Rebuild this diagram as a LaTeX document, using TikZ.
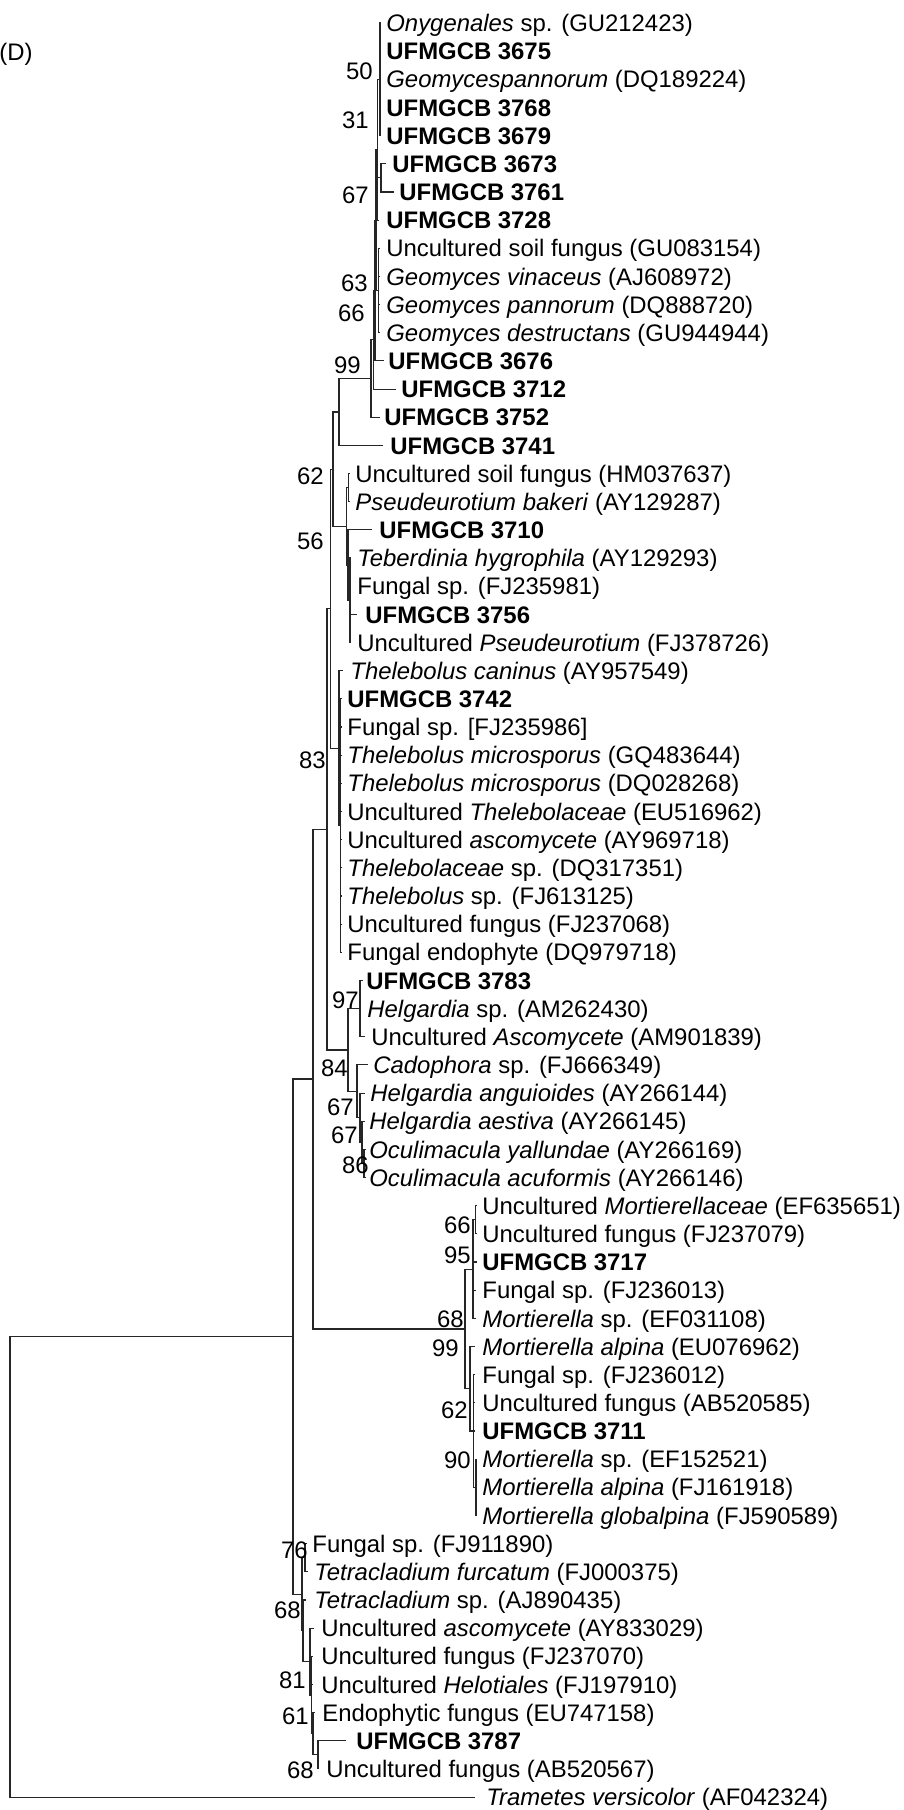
\documentclass[tikz,border=0pt]{standalone}
\usepackage{fontspec}
\setmainfont{Liberation Sans}
\newcommand\tipnode[5]{%
  \coordinate (e#1) at (#2,#4);
  \node[tip] (t#1) at (#3,#4) {#5};}
\begin{document}
\begin{tikzpicture}[x=0.5pt,y=-0.5pt,
  tip/.style={anchor=west,inner sep=0pt,text height=8.6pt,text depth=0pt,font=\fontsize{11.95pt}{13.5pt}\selectfont},
  bs/.style={anchor=east,inner sep=0pt,text height=8.6pt,text depth=0pt,font=\fontsize{11.95pt}{13.5pt}\selectfont},
  br/.style={line width=0.55pt,black!85}]
\useasboundingbox (0,0) rectangle (904,1810);
\node[tip] (lab) at (-1,52) {(D)};
% ---- tips
\tipnode{0}{381}{386}{23.0}{\textit{Onygenales} sp. (GU212423)}
\tipnode{1}{381}{386}{51.2}{\textbf{UFMGCB 3675}}
\tipnode{2}{381}{386}{79.3}{\textit{Geomycespannorum} (DQ189224)}
\tipnode{3}{381}{386}{107.5}{\textbf{UFMGCB 3768}}
\tipnode{4}{381}{386}{135.6}{\textbf{UFMGCB 3679}}
\tipnode{5}{386}{392}{163.8}{\textbf{UFMGCB 3673}}
\tipnode{6}{394}{399}{192.0}{\textbf{UFMGCB 3761}}
\tipnode{7}{379}{386}{220.1}{\textbf{UFMGCB 3728}}
\tipnode{8}{380}{386}{248.3}{Uncultured soil fungus (GU083154)}
\tipnode{9}{380}{386}{276.4}{\textit{Geomyces vinaceus} (AJ608972)}
\tipnode{10}{380}{386}{304.6}{\textit{Geomyces pannorum} (DQ888720)}
\tipnode{11}{380}{386}{332.8}{\textit{Geomyces destructans} (GU944944)}
\tipnode{12}{384}{388}{360.9}{\textbf{UFMGCB 3676}}
\tipnode{13}{396}{401}{389.1}{\textbf{UFMGCB 3712}}
\tipnode{14}{380}{384}{417.2}{\textbf{UFMGCB 3752}}
\tipnode{15}{383}{390}{445.4}{\textbf{UFMGCB 3741}}
\tipnode{16}{350}{355}{473.6}{Uncultured soil fungus (HM037637)}
\tipnode{17}{350}{355}{501.7}{\textit{Pseudeurotium bakeri} (AY129287)}
\tipnode{18}{372}{379}{529.9}{\textbf{UFMGCB 3710}}
\tipnode{19}{351}{357}{558.0}{\textit{Teberdinia hygrophila} (AY129293)}
\tipnode{20}{351}{357}{586.2}{Fungal sp. (FJ235981)}
\tipnode{21}{357}{365}{614.4}{\textbf{UFMGCB 3756}}
\tipnode{22}{351}{357}{642.5}{Uncultured \textit{Pseudeurotium} (FJ378726)}
\tipnode{23}{343}{350}{670.7}{\textit{Thelebolus caninus} (AY957549)}
\tipnode{24}{341}{347}{698.8}{\textbf{UFMGCB 3742}}
\tipnode{25}{341}{347}{727.0}{Fungal sp. [FJ235986]}
\tipnode{26}{341}{347}{755.2}{\textit{Thelebolus microsporus} (GQ483644)}
\tipnode{27}{341}{347}{783.3}{\textit{Thelebolus microsporus} (DQ028268)}
\tipnode{28}{341}{347}{811.5}{Uncultured \textit{Thelebolaceae} (EU516962)}
\tipnode{29}{341}{347}{839.6}{Uncultured \textit{ascomycete} (AY969718)}
\tipnode{30}{341}{347}{867.8}{\textit{Thelebolaceae} sp. (DQ317351)}
\tipnode{31}{341}{347}{896.0}{\textit{Thelebolus} sp. (FJ613125)}
\tipnode{32}{341}{347}{924.1}{Uncultured fungus (FJ237068)}
\tipnode{33}{341}{347}{952.3}{Fungal endophyte (DQ979718)}
\tipnode{34}{363}{366}{980.4}{\textbf{UFMGCB 3783}}
\tipnode{35}{361}{367}{1008.6}{\textit{Helgardia} sp. (AM262430)}
\tipnode{36}{365}{371}{1036.8}{Uncultured \textit{Ascomycete} (AM901839)}
\tipnode{37}{368}{373}{1064.9}{\textit{Cadophora} sp. (FJ666349)}
\tipnode{38}{365}{370}{1093.1}{\textit{Helgardia anguioides} (AY266144)}
\tipnode{39}{365}{369}{1121.2}{\textit{Helgardia aestiva} (AY266145)}
\tipnode{40}{366}{369}{1149.4}{\textit{Oculimacula yallundae} (AY266169)}
\tipnode{41}{366}{369}{1177.6}{\textit{Oculimacula acuformis} (AY266146)}
\tipnode{42}{477}{482}{1205.7}{Uncultured \textit{Mortierellaceae} (EF635651)}
\tipnode{43}{477}{482}{1233.9}{Uncultured fungus (FJ237079)}
\tipnode{44}{477}{482}{1262.0}{\textbf{UFMGCB 3717}}
\tipnode{45}{476}{482}{1290.2}{Fungal sp. (FJ236013)}
\tipnode{46}{476}{482}{1318.4}{\textit{Mortierella} sp. (EF031108)}
\tipnode{47}{475}{482}{1346.5}{\textit{Mortierella alpina} (EU076962)}
\tipnode{48}{475}{482}{1374.7}{Fungal sp. (FJ236012)}
\tipnode{49}{475}{482}{1402.8}{Uncultured fungus (AB520585)}
\tipnode{50}{475}{482}{1431.0}{\textbf{UFMGCB 3711}}
\tipnode{51}{477}{482}{1459.2}{\textit{Mortierella} sp. (EF152521)}
\tipnode{52}{477}{482}{1487.3}{\textit{Mortierella alpina} (FJ161918)}
\tipnode{53}{477}{482}{1515.5}{\textit{Mortierella globalpina} (FJ590589)}
\tipnode{54}{307}{312}{1543.6}{Fungal sp. (FJ911890)}
\tipnode{55}{308}{314}{1571.8}{\textit{Tetracladium furcatum} (FJ000375)}
\tipnode{56}{306}{314}{1600.0}{\textit{Tetracladium} sp. (AJ890435)}
\tipnode{57}{314}{321}{1628.1}{Uncultured \textit{ascomycete} (AY833029)}
\tipnode{58}{313}{321}{1656.3}{Uncultured fungus (FJ237070)}
\tipnode{59}{313}{321}{1684.4}{Uncultured \textit{Helotiales} (FJ197910)}
\tipnode{60}{315}{322}{1712.6}{Endophytic fungus (EU747158)}
\tipnode{61}{346}{356}{1740.8}{\textbf{UFMGCB 3787}}
\tipnode{62}{319}{326}{1768.9}{Uncultured fungus (AB520567)}
\tipnode{63}{475}{486}{1797.1}{\textit{Trametes versicolor} (AF042324)}
% ---- internal nodes
\coordinate (NA) at (380,79.3);
\coordinate (NB) at (381,177.9);
\coordinate (NC) at (377.5,149.7);
\coordinate (ND) at (378.5,290.5);
\coordinate (NE) at (376,220.1);
\coordinate (NF) at (375,290.5);
\coordinate (NG) at (373.5,339.8);
\coordinate (NH) at (371,378.5);
\coordinate (N99) at (339,412);
\coordinate (NP1) at (348.5,487.6);
\coordinate (NP2a) at (350,600.3);
\coordinate (NP2) at (348,565.1);
\coordinate (N56) at (346.5,526.4);
\coordinate (N62) at (333,469.2);
\coordinate (NT2) at (340.5,825.6);
\coordinate (NT) at (339,748.2);
\coordinate (NZ) at (330.5,608.7);
\coordinate (N97) at (360,1008.6);
\coordinate (N86) at (364,1163.5);
\coordinate (N67c) at (362,1142.4);
\coordinate (N67b) at (360,1117.7);
\coordinate (N67a) at (357,1091.3);
\coordinate (N84) at (348,1050);
\coordinate (NY) at (327,829.3);
\coordinate (N66) at (475.5,1219.8);
\coordinate (N95) at (473,1269.1);
\coordinate (N90) at (476,1487.3);
\coordinate (N62m) at (473.5,1431);
\coordinate (N99m) at (470,1388.8);
\coordinate (NM) at (465,1329);
\coordinate (NX) at (313,1079);
\coordinate (N76) at (305,1557.7);
\coordinate (N68c) at (318,1754.9);
\coordinate (N61) at (313,1733.8);
\coordinate (Na) at (311.5,1695);
\coordinate (N81) at (310,1661.6);
\coordinate (N68t) at (303,1630.8);
\coordinate (Ntet) at (302,1594.3);
\coordinate (Nmain) at (293,1336.7);
\coordinate (Nroot) at (10,1566.9);
% ---- branches
\foreach \p/\cs in {NA/{e0,e1,e2,e3,e4}, NB/{e5,e6}, NC/{NA,NB,e7}, ND/{e8,e9,e10,e11},
  NE/{NC,ND}, NF/{NE,e12}, NG/{NF,e13}, NH/{NG,e14}, N99/{NH,e15},
  NP1/{e16,e17}, NP2a/{e19,e20,e21,e22}, NP2/{e18,NP2a}, N56/{NP1,NP2}, N62/{N99,N56},
  NT2/{e24,e25,e26,e27,e28,e29,e30,e31,e32,e33}, NT/{e23,NT2}, NZ/{N62,NT},
  N97/{e34,e35,e36}, N86/{e40,e41}, N67c/{e39,N86}, N67b/{e38,N67c}, N67a/{e37,N67b},
  N84/{N97,N67a}, NY/{NZ,N84},
  N66/{e42,e43}, N95/{N66,e44,e45,e46}, N90/{e51,e52,e53}, N62m/{e48,e49,e50,N90},
  N99m/{e47,N62m}, NM/{N95,N99m}, NX/{NY,NM},
  N76/{e54,e55}, N68c/{e61,e62}, N61/{e60,N68c}, Na/{e58,e59,N61}, N81/{e57,Na},
  N68t/{e56,N81}, Ntet/{N76,N68t}, Nmain/{NX,Ntet}, Nroot/{Nmain,e63}}
  {\foreach \c in \cs {\draw[br] (\p) |- (\c);}}
% ---- bootstrap values
\node[bs] (b1) at (373,70.5) {50};
\node[bs] (b2) at (369,119.5) {31};
\node[bs] (b3) at (369,194.5) {67};
\node[bs] (b4) at (368,282.5) {63};
\node[bs] (b5) at (365,312.5) {66};
\node[bs] (b6) at (361,364.5) {99};
\node[bs] (b7) at (324,475.5) {62};
\node[bs] (b8) at (324,540.5) {56};
\node[bs] (b9) at (326,760) {83};
\node[bs] (b10) at (359,1000) {97};
\node[bs] (b11) at (348,1068) {84};
\node[bs] (b12) at (354,1107) {67};
\node[bs] (b13) at (358,1135) {67};
\node[bs] (b14) at (369,1165) {86};
\node[bs] (b15) at (471,1225) {66};
\node[bs] (b16) at (471,1254.5) {95};
\node[bs] (b17) at (464,1319) {68};
\node[bs] (b18) at (459,1347.5) {99};
\node[bs] (b19) at (468,1410) {62};
\node[bs] (b20) at (471,1459.5) {90};
\node[bs] (b21) at (308,1549.5) {76};
\node[bs] (b22) at (301,1610) {68};
\node[bs] (b23) at (306,1679.5) {81};
\node[bs] (b24) at (309,1715.5) {61};
\node[bs] (b25) at (314,1769.5) {68};
\end{tikzpicture}
\end{document}
